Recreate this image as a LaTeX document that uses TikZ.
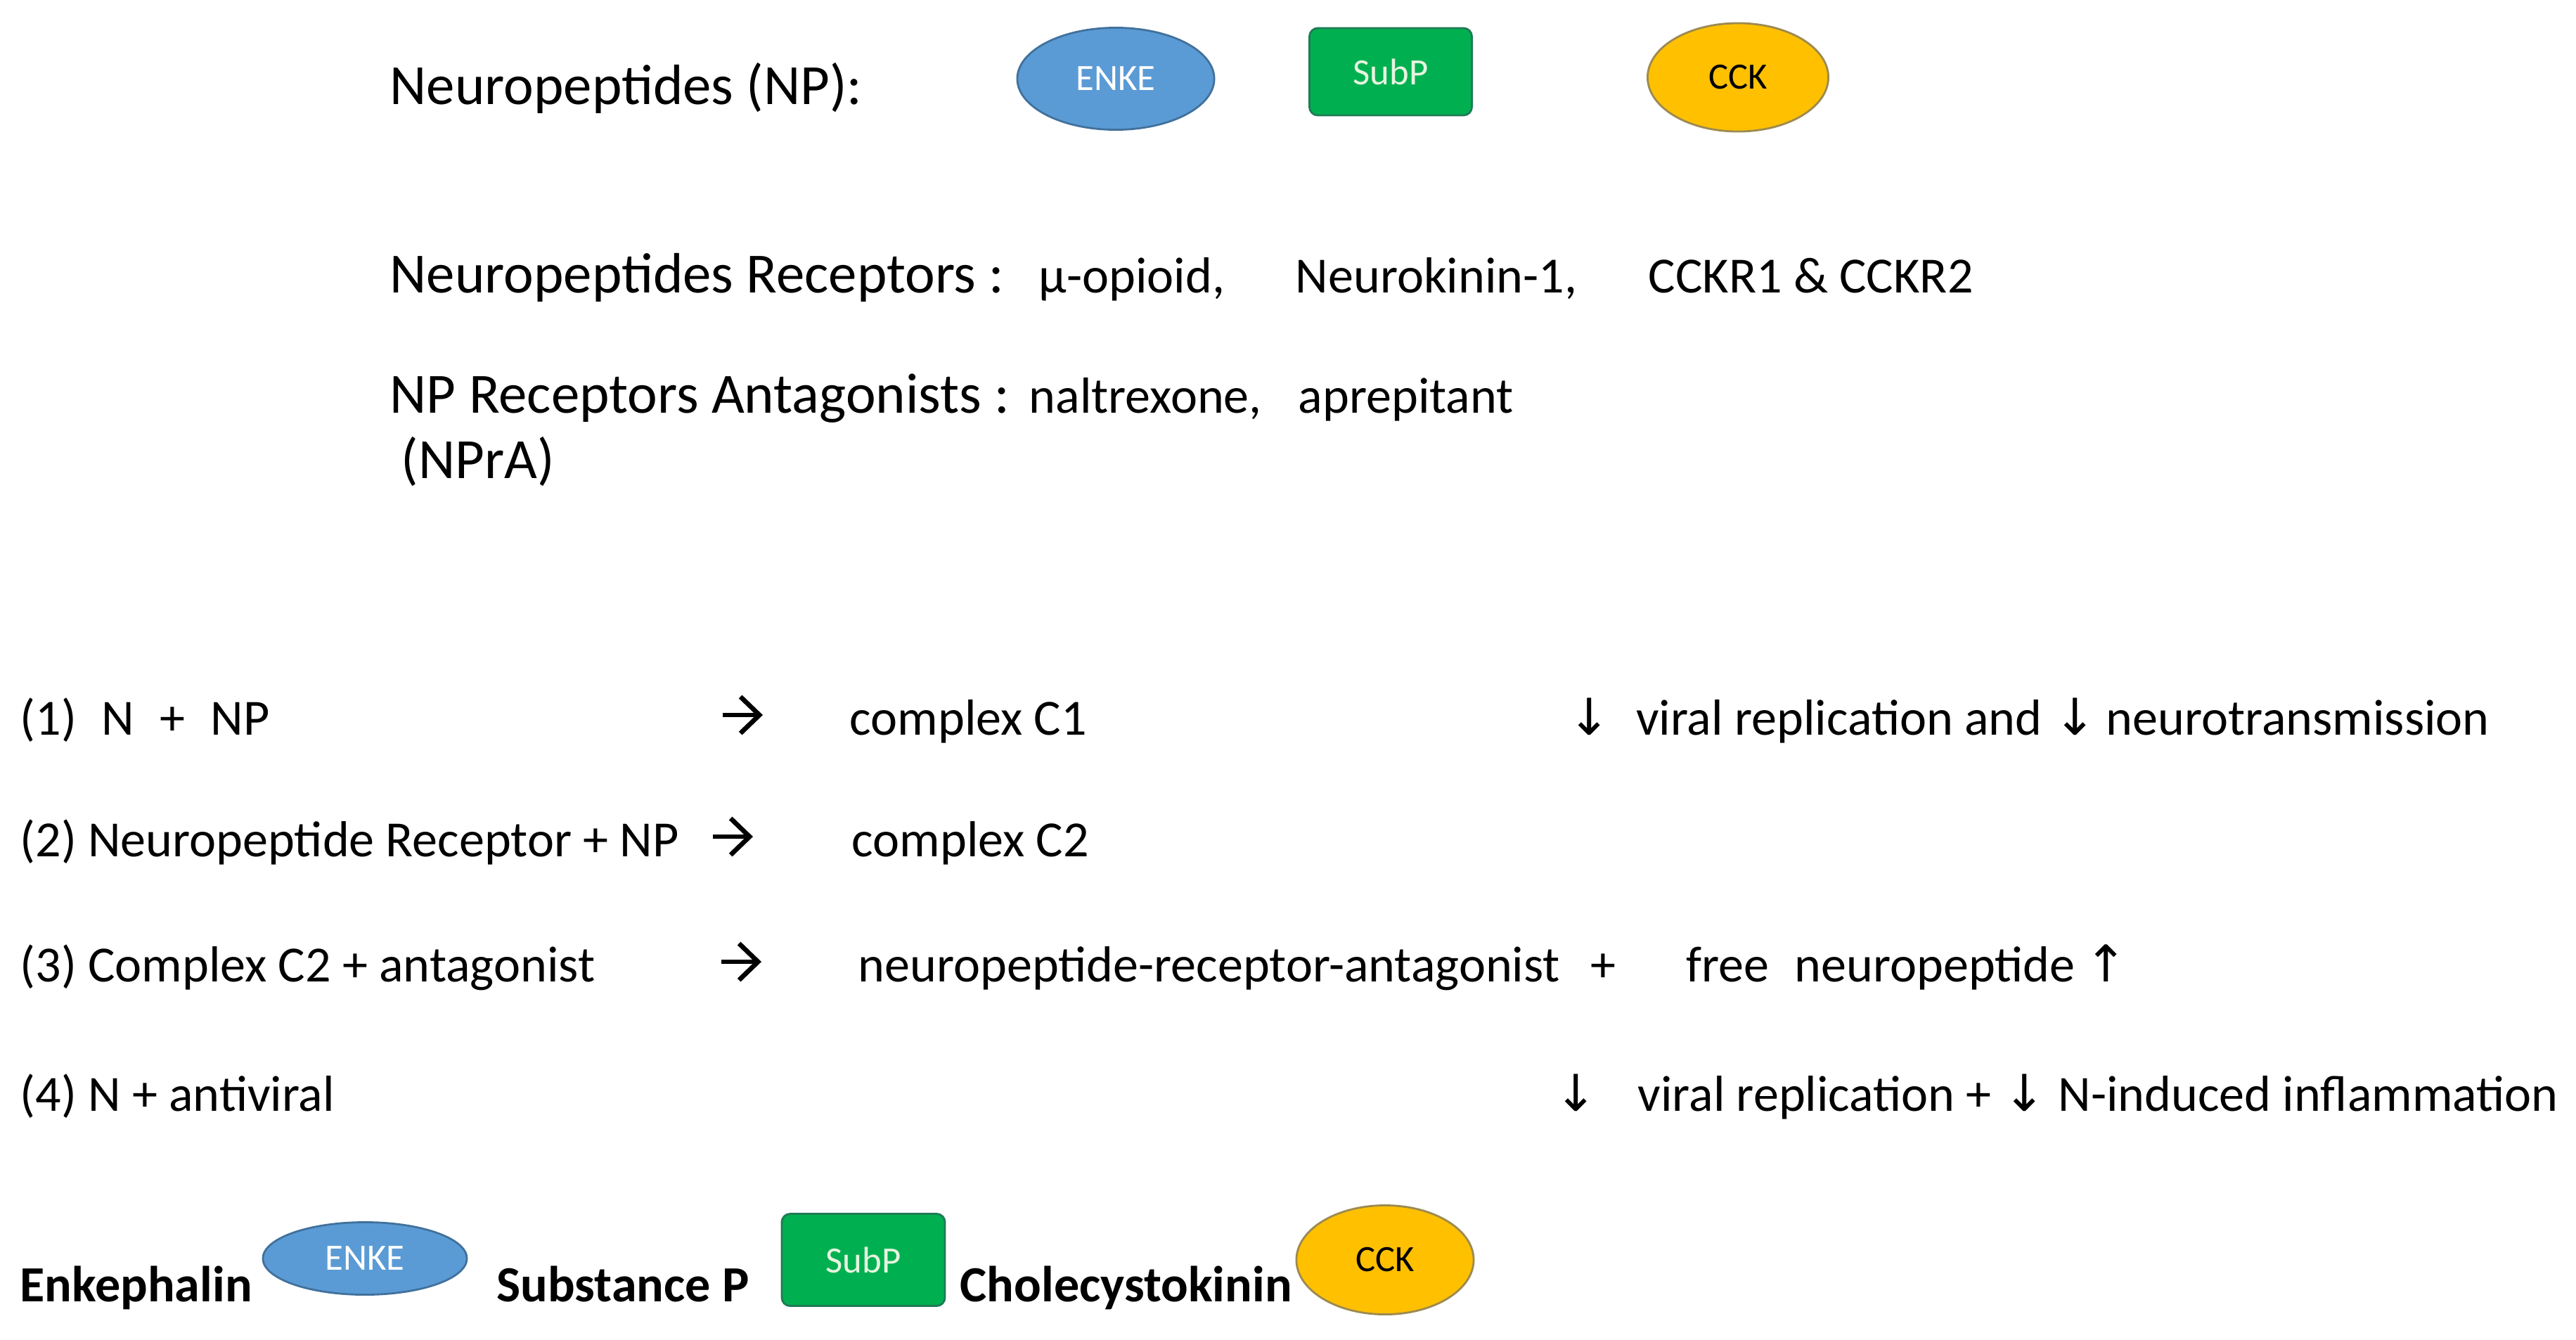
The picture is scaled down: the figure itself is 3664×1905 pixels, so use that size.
\documentclass[tikz,border=0pt]{standalone}
\usepackage{fontspec}
\setmainfont{Carlito}
\newfontfamily\arrowfont{DejaVu Sans}
\usepackage{xcolor}
\usepackage{tikz}
\usetikzlibrary{shapes,arrows.meta,positioning}
\definecolor{enkeblue}{HTML}{5B9BD5}
\definecolor{enkeedge}{HTML}{41719C}
\definecolor{subpgreen}{HTML}{00B050}
\definecolor{subpedge}{HTML}{1E7B55}
\definecolor{subptext}{HTML}{E6F4DF}
\definecolor{cckyellow}{HTML}{FFC000}
\definecolor{cckedge}{HTML}{9C8A50}
\newcommand{\decr}{{\arrowfont ↓}}
\newcommand{\incr}{{\arrowfont ↑}}

\begin{document}
\begin{tikzpicture}[x=0.01cm,y=-0.01cm]
    \tikzstyle{heading}=[anchor=base west,inner sep=0pt,font=\fontsize{23}{27}\selectfont]
    \tikzstyle{item}=[anchor=base west,inner sep=0pt,font=\fontsize{20.5}{24}\selectfont]
    \tikzstyle{pepname}=[item,font=\fontsize{20.5}{24}\selectfont\bfseries]
    \tikzstyle{peptide}=[draw,line width=0.8pt,inner sep=0pt,font=\fontsize{15}{18}\selectfont]
    \tikzstyle{enke}=[peptide,ellipse,fill=enkeblue,draw=enkeedge,text=white];
    \tikzstyle{subp}=[peptide,rectangle,rounded corners=0.12cm,fill=subpgreen,draw=subpedge,text=subptext];
    \tikzstyle{cck}=[peptide,ellipse,fill=cckyellow,draw=cckedge];
    \tikzstyle{yields}=[-{Straight Barb[length=0.27cm,width=0.52cm,line width=1.9pt]},line width=1.6pt]

    \useasboundingbox (0,0) rectangle (3664,1905);

    % Neuropeptides and their symbols
    \node[heading] (np) at (554,148) {Neuropeptides (NP):};
    \node[enke,minimum width=2.8cm,minimum height=1.45cm] (enke-top) at (1587,112) {ENKE};
    \node[subp,minimum width=2.31cm,minimum height=1.24cm] (subp-top) at (1978,102) {SubP};
    \node[cck,minimum width=2.57cm,minimum height=1.54cm] (cck-top) at (2472,110) {CCK};

    % Receptors and antagonists
    \node[heading] (rec) at (554,416) {Neuropeptides Receptors :};
    \node[item] (rec-1) at (1477,416) {µ-opioid,};
    \node[item] (rec-2) at (1842,416) {Neurokinin-1,};
    \node[item] (rec-3) at (2344,416) {CCKR1 \& CCKR2};
    \node[heading] (ant) at (554,587) {NP Receptors Antagonists :};
    \node[item] (ant-1) at (1463,587) {naltrexone,};
    \node[item] (ant-2) at (1846,587) {aprepitant};
    \node[heading] (npra) at (570,680) {(NPrA)};

    % The four reactions
    \node[item] (r-1) at (28,1045) {(1)\hspace{0.5em}N\hspace{0.5em}+\hspace{0.5em}NP};
    \node[item] (r-2) at (28,1218) {(2) Neuropeptide Receptor + NP};
    \node[item] (r-3) at (28,1396) {(3) Complex C2 + antagonist};
    \node[item] (r-4) at (28,1580) {(4) N + antiviral};

    \node[item] (p-1) at (1208,1045) {complex C1};
    \node[item] (p-2) at (1211,1218) {complex C2};
    \node[item] (p-3) at (1220,1396) {neuropeptide-receptor-antagonist\hspace{0.6em}+};
    \node[item] (f-3) at (2398,1396) {free\hspace{0.5em}neuropeptide\hspace{0.2em}\incr};

    \node[item] (e-1) at (2230,1045) {\decr\hspace{0.5em}viral replication and \decr\hspace{0.2em}neurotransmission};
    \node[item] (e-4) at (2211,1580) {\decr\hspace{0.8em}viral replication + \decr\hspace{0.25em}N-induced inflammation};

    % Reaction arrows
    \foreach \n / \xs / \y in {1/1028/1017, 2/1014/1190, 3/1026/1368} {
        \coordinate (y-\n s) at (\xs,\y);
        \coordinate (y-\n e) at (\xs+57,\y);
        \draw[yields] (y-\n s) -- (y-\n e);
    }

    % Legend
    \node[pepname] (enk) at (28,1851) {Enkephalin};
    \node[enke,minimum width=2.9cm,minimum height=1.03cm] (enke-bot) at (519,1790) {ENKE};
    \node[pepname] (sub) at (706,1851) {Substance P};
    \node[subp,minimum width=2.32cm,minimum height=1.31cm] (subp-bot) at (1228,1792) {SubP};
    \node[pepname] (cho) at (1365,1851) {Cholecystokinin};
    \node[cck,minimum width=2.52cm,minimum height=1.55cm] (cck-bot) at (1970,1792) {CCK};

\end{tikzpicture}
\end{document}
